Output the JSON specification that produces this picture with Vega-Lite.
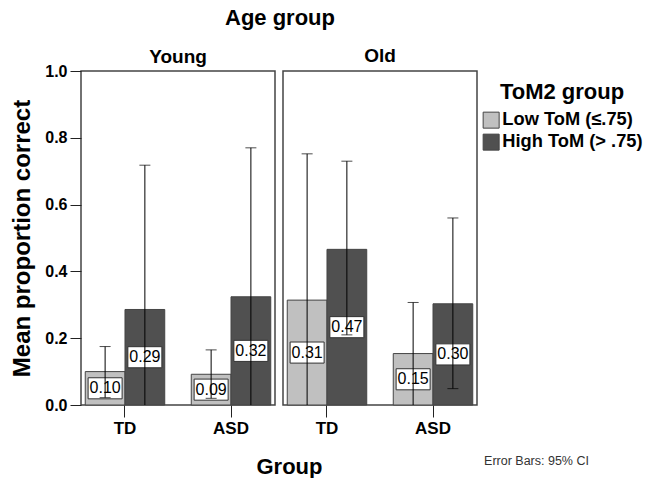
{
  "$schema": "https://vega.github.io/schema/vega-lite/v6.json",
  "background": "white",
  "padding": {"left": 10, "top": 7, "right": 5, "bottom": 0},
  "bounds": "flush",
  "spacing": 8,
  "data": {
    "values": [
      {"age": "Young", "group": "TD", "tom": "Low ToM (≤.75)", "mean": 0.100, "lo": 0.022, "hi": 0.175},
      {"age": "Young", "group": "TD", "tom": "High ToM (> .75)", "mean": 0.286, "lo": -0.15, "hi": 0.718},
      {"age": "Young", "group": "ASD", "tom": "Low ToM (≤.75)", "mean": 0.092, "lo": 0.020, "hi": 0.165},
      {"age": "Young", "group": "ASD", "tom": "High ToM (> .75)", "mean": 0.324, "lo": -0.12, "hi": 0.770},
      {"age": "Old", "group": "TD", "tom": "Low ToM (≤.75)", "mean": 0.314, "lo": -0.12, "hi": 0.752},
      {"age": "Old", "group": "TD", "tom": "High ToM (> .75)", "mean": 0.466, "lo": 0.210, "hi": 0.730},
      {"age": "Old", "group": "ASD", "tom": "Low ToM (≤.75)", "mean": 0.154, "lo": -0.01, "hi": 0.307},
      {"age": "Old", "group": "ASD", "tom": "High ToM (> .75)", "mean": 0.303, "lo": 0.049, "hi": 0.560}
    ]
  },
  "title": {
    "text": "Age group", "anchor": "middle", "frame": "group", "dx": 199,
    "font": "Liberation Sans", "fontSize": 22, "fontWeight": "bold", "color": "black", "offset": 16
  },
  "hconcat": [
    {
      "transform": [{"filter": "datum.age === 'Young'"}],
      "title": {"text": "Young", "font": "Liberation Sans", "fontSize": 19, "fontWeight": "bold", "color": "black", "offset": -4, "anchor": "middle"},
      "width": 194,
      "height": 334,
      "encoding": {
        "x": {
          "field": "group", "type": "nominal", "sort": ["TD", "ASD"],
          "scale": {"paddingInner": 0.25, "paddingOuter": 0.04},
          "axis": {
            "title": "Error Bars: 95% CI", "titleFont": "Liberation Sans", "titleFontSize": 12.5, "titleFontWeight": "normal", "titleColor": "#333",
            "titleX": 455, "titleY": 55, "titleBaseline": "middle", "titleAlign": "center",
            "labelAngle": 0, "domain": false, "tickSize": 12, "tickColor": "#222", "tickWidth": 1,
            "labelFont": "Liberation Sans", "labelFontSize": 17, "labelFontWeight": "bold", "labelColor": "black", "labelPadding": 3
          }
        },
        "xOffset": {
          "field": "tom", "type": "nominal", "sort": ["Low ToM (≤.75)", "High ToM (> .75)"],
          "scale": {"paddingInner": 0, "paddingOuter": 0}
        }
      },
      "resolve": {"scale": {"y": "independent"}},
      "layer": [
        {
          "mark": {"type": "bar", "stroke": "#444", "strokeWidth": 1},
          "encoding": {
            "y": {
              "field": "mean", "type": "quantitative", "scale": {"domain": [0, 1]},
              "axis": {
                "title": "Mean proportion correct", "titleFont": "Liberation Sans", "titleFontSize": 24, "titleFontWeight": "bold", "titleColor": "black", "titlePadding": 10,
                "values": [0, 0.2, 0.4, 0.6, 0.8, 1.0], "format": ".1f", "grid": false, "domain": false,
                "tickSize": 11, "tickColor": "#222", "labelPadding": 3,
                "labelFont": "Liberation Sans", "labelFontSize": 16, "labelFontWeight": "bold", "labelColor": "black"
              }
            },
            "fill": {
              "field": "tom", "type": "nominal",
              "scale": {"domain": ["Low ToM (≤.75)", "High ToM (> .75)"], "range": ["#c0c0c0", "#505050"]},
              "legend": {
                "title": "ToM2 group", "orient": "none", "legendX": 401, "legendY": 11,
                "titleFont": "Liberation Sans", "titleFontSize": 22, "titleFontWeight": "bold", "titleColor": "black", "titleAnchor": "middle", "titlePadding": 7,
                "labelFont": "Liberation Sans", "labelFontSize": 18.3, "labelFontWeight": "bold", "labelColor": "black", "labelOffset": 2,
                "symbolType": "square", "symbolSize": 256, "symbolStrokeColor": "#333", "symbolStrokeWidth": 1, "rowPadding": 1
              }
            }
          }
        },
        {
          "encoding": {
            "y": {"field": "mean", "type": "quantitative", "scale": {"domain": [0, 2]}, "axis": null}
          },
          "layer": [
            {
              "mark": {"type": "point", "shape": "M-1,-0.62L1,-0.62L1,0.62L-1,0.62Z", "size": 1156, "filled": true, "fill": "white", "stroke": "#333", "strokeWidth": 1, "opacity": 1}
            },
            {
              "mark": {"type": "text", "font": "Liberation Sans", "fontSize": 16, "color": "black", "baseline": "middle", "align": "center"},
              "encoding": {"text": {"field": "mean", "type": "quantitative", "format": ".2f"}}
            }
          ]
        },
        {
          "encoding": {
            "y": {"field": "lo", "type": "quantitative", "scale": {"domain": [0, 1]}, "axis": null}
          },
          "layer": [
            {
              "mark": {"type": "rule", "color": "black", "strokeWidth": 1, "clip": true},
              "encoding": {"y2": {"field": "hi"}}
            },
            {
              "mark": {"type": "tick", "color": "black", "size": 11, "thickness": 1, "clip": true},
              "encoding": {"y": {"field": "hi", "type": "quantitative"}}
            },
            {
              "mark": {"type": "tick", "color": "black", "size": 11, "thickness": 1, "clip": true},
              "encoding": {}
            }
          ]
        }
      ]
    },
    {
      "transform": [{"filter": "datum.age === 'Old'"}],
      "title": {"text": "Old", "font": "Liberation Sans", "fontSize": 19, "fontWeight": "bold", "color": "black", "offset": 5, "anchor": "middle"},
      "width": 194,
      "height": 334,
      "encoding": {
        "x": {
          "field": "group", "type": "nominal", "sort": ["TD", "ASD"],
          "scale": {"paddingInner": 0.25, "paddingOuter": 0.04},
          "axis": {
            "title": "Group", "titleFont": "Liberation Sans", "titleFontSize": 22, "titleFontWeight": "bold", "titleColor": "black",
            "titleX": 6, "titleY": 61, "titleBaseline": "middle", "titleAlign": "center",
            "labelAngle": 0, "domain": false, "tickSize": 12, "tickColor": "#222", "tickWidth": 1,
            "labelFont": "Liberation Sans", "labelFontSize": 17, "labelFontWeight": "bold", "labelColor": "black", "labelPadding": 3
          }
        },
        "xOffset": {
          "field": "tom", "type": "nominal", "sort": ["Low ToM (≤.75)", "High ToM (> .75)"],
          "scale": {"paddingInner": 0, "paddingOuter": 0}
        }
      },
      "resolve": {"scale": {"y": "independent"}},
      "layer": [
        {
          "mark": {"type": "bar", "stroke": "#444", "strokeWidth": 1},
          "encoding": {
            "y": {"field": "mean", "type": "quantitative", "scale": {"domain": [0, 1]}, "axis": null},
            "fill": {
              "field": "tom", "type": "nominal",
              "scale": {"domain": ["Low ToM (≤.75)", "High ToM (> .75)"], "range": ["#c0c0c0", "#505050"]}
            }
          }
        },
        {
          "encoding": {
            "y": {"field": "mean", "type": "quantitative", "scale": {"domain": [0, 2]}, "axis": null}
          },
          "layer": [
            {
              "mark": {"type": "point", "shape": "M-1,-0.62L1,-0.62L1,0.62L-1,0.62Z", "size": 1156, "filled": true, "fill": "white", "stroke": "#333", "strokeWidth": 1, "opacity": 1}
            },
            {
              "mark": {"type": "text", "font": "Liberation Sans", "fontSize": 16, "color": "black", "baseline": "middle", "align": "center"},
              "encoding": {"text": {"field": "mean", "type": "quantitative", "format": ".2f"}}
            }
          ]
        },
        {
          "encoding": {
            "y": {"field": "lo", "type": "quantitative", "scale": {"domain": [0, 1]}, "axis": null}
          },
          "layer": [
            {
              "mark": {"type": "rule", "color": "black", "strokeWidth": 1, "clip": true},
              "encoding": {"y2": {"field": "hi"}}
            },
            {
              "mark": {"type": "tick", "color": "black", "size": 11, "thickness": 1, "clip": true},
              "encoding": {"y": {"field": "hi", "type": "quantitative"}}
            },
            {
              "mark": {"type": "tick", "color": "black", "size": 11, "thickness": 1, "clip": true},
              "encoding": {}
            }
          ]
        }
      ]
    }
  ],
  "config": {
    "view": {"stroke": "#444", "strokeWidth": 1.5},
    "font": "Liberation Sans"
  }
}
